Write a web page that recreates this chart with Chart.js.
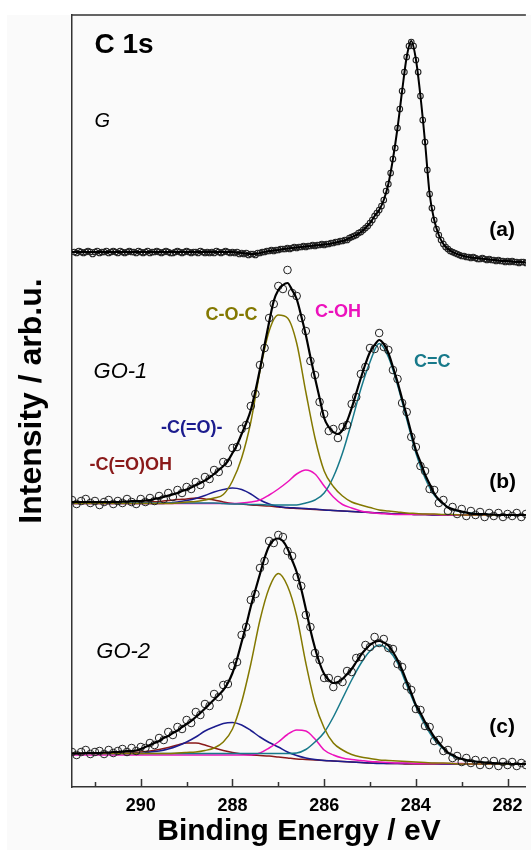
<!DOCTYPE html>
<html>
<head>
<meta charset="utf-8">
<script src="https://cdn.jsdelivr.net/npm/chart.js@4.4.1/dist/chart.umd.min.js"></script>
<style>
  html, body { margin: 0; padding: 0; background: #fff; }
</style>
</head>
<body>
<canvas id="xps" width="531" height="850"></canvas>
<script>
// binding energies (eV)
const E_G = [
  291.45, 291.4, 291.35, 291.3, 291.25, 291.2, 291.15, 291.1, 291.05, 291,
  290.95, 290.9, 290.85, 290.8, 290.75, 290.7, 290.65, 290.6, 290.55, 290.5,
  290.45, 290.4, 290.35, 290.3, 290.25, 290.2, 290.15, 290.1, 290.05, 290,
  289.95, 289.9, 289.85, 289.8, 289.75, 289.7, 289.65, 289.6, 289.55, 289.5,
  289.45, 289.4, 289.35, 289.3, 289.25, 289.2, 289.15, 289.1, 289.05, 289,
  288.95, 288.9, 288.85, 288.8, 288.75, 288.7, 288.65, 288.6, 288.55, 288.5,
  288.45, 288.4, 288.35, 288.3, 288.25, 288.2, 288.15, 288.1, 288.05, 288,
  287.95, 287.9, 287.85, 287.8, 287.75, 287.7, 287.65, 287.6, 287.55, 287.5,
  287.45, 287.4, 287.35, 287.3, 287.25, 287.2, 287.15, 287.1, 287.05, 287,
  286.95, 286.9, 286.85, 286.8, 286.75, 286.7, 286.65, 286.6, 286.55, 286.5,
  286.45, 286.4, 286.35, 286.3, 286.25, 286.2, 286.15, 286.1, 286.05, 286,
  285.95, 285.9, 285.85, 285.8, 285.75, 285.7, 285.65, 285.6, 285.55, 285.5,
  285.45, 285.4, 285.35, 285.3, 285.25, 285.2, 285.15, 285.1, 285.05, 285,
  284.95, 284.9, 284.85, 284.8, 284.75, 284.7, 284.65, 284.6, 284.55, 284.5,
  284.45, 284.4, 284.35, 284.3, 284.25, 284.2, 284.15, 284.1, 284.05, 284,
  283.95, 283.9, 283.85, 283.8, 283.75, 283.7, 283.65, 283.6, 283.55, 283.5,
  283.45, 283.4, 283.35, 283.3, 283.25, 283.2, 283.15, 283.1, 283.05, 283,
  282.95, 282.9, 282.85, 282.8, 282.75, 282.7, 282.65, 282.6, 282.55, 282.5,
  282.45, 282.4, 282.35, 282.3, 282.25, 282.2, 282.15, 282.1, 282.05, 282,
  281.95, 281.9, 281.85, 281.8, 281.75, 281.7, 281.65, 281.6
];
const E_FINE = [
  291.5, 291.4, 291.3, 291.2, 291.1, 291, 290.9, 290.8, 290.7, 290.6,
  290.5, 290.4, 290.3, 290.2, 290.1, 290, 289.9, 289.8, 289.7, 289.6,
  289.5, 289.4, 289.3, 289.2, 289.1, 289, 288.9, 288.8, 288.7, 288.6,
  288.5, 288.4, 288.3, 288.2, 288.1, 288, 287.9, 287.8, 287.7, 287.6,
  287.5, 287.4, 287.3, 287.2, 287.1, 287, 286.9, 286.8, 286.7, 286.6,
  286.5, 286.4, 286.3, 286.2, 286.1, 286, 285.9, 285.8, 285.7, 285.6,
  285.5, 285.4, 285.3, 285.2, 285.1, 285, 284.9, 284.8, 284.7, 284.6,
  284.5, 284.4, 284.3, 284.2, 284.1, 284, 283.9, 283.8, 283.7, 283.6,
  283.5, 283.4, 283.3, 283.2, 283.1, 283, 282.9, 282.8, 282.7, 282.6,
  282.5, 282.4, 282.3, 282.2, 282.1, 282, 281.9, 281.8, 281.7, 281.6
];
const E_COARSE = [
  291.6, 291.4, 291.2, 291, 290.8, 290.6, 290.4, 290.2, 290, 289.8,
  289.6, 289.4, 289.2, 289, 288.8, 288.6, 288.4, 288.2, 288, 287.8,
  287.6, 287.4, 287.2, 287, 286.8, 286.6, 286.4, 286.2, 286, 285.8,
  285.6, 285.4, 285.2, 285, 284.8, 284.6, 284.4, 284.2, 284, 283.8,
  283.6, 283.4, 283.2, 283, 282.8, 282.6, 282.4, 282.2, 282, 281.8,
  281.6
];

// (a) G
const G_DATA = [
  535, 534, 536, 535, 534, 535, 536, 535, 533, 535,
  536, 534, 535, 535, 536, 534, 535, 536, 535, 534,
  536, 535, 534, 535, 536, 535, 535, 534, 536, 535,
  534, 535, 536, 534, 535, 535, 536, 535, 534, 535,
  536, 535, 534, 534, 535, 536, 535, 534, 535, 536,
  535, 534, 535, 535, 534, 536, 535, 534, 535, 534,
  535, 534, 536, 535, 534, 535, 536, 535, 534, 535,
  534, 535, 533, 534, 533, 534, 532, 533, 533, 532,
  534, 534, 535, 535, 536, 536, 537, 536, 537, 537,
  538, 538, 538, 539, 538, 539, 540, 539, 540, 540,
  541, 540, 541, 541, 542, 541, 542, 542, 543, 542,
  543, 543, 544, 544, 545, 545, 546, 546, 547, 547,
  549, 550, 551, 552, 554, 555, 557, 559, 561, 564,
  567, 571, 574, 577, 581, 587, 596, 603, 614, 628,
  639, 659, 678, 696, 715, 730, 741, 745, 741, 727,
  715, 691, 667, 645, 617, 593, 579, 567, 558, 552,
  547, 543, 540, 538, 536, 535, 534, 533, 532, 531,
  531, 530, 530, 529, 530, 529, 528, 528, 529, 528,
  527, 528, 527, 527, 526, 527, 526, 526, 525, 526,
  525, 526, 525, 525, 524, 525, 525, 524
];
const G_FIT = [
  535, 535, 535, 535, 535, 535, 535, 535, 535, 535,
  535, 535, 535, 535, 535, 535, 535, 535, 535, 535,
  535, 535, 535, 535, 535, 535, 535, 535, 535, 535,
  535, 535, 535, 535, 535, 535, 534.5, 534, 533.5, 533,
  533, 534, 535, 536, 536.5, 537, 538, 538.5, 539, 539.5,
  540, 540.5, 541, 541.5, 542, 542.5, 543, 544, 545, 546,
  547.5, 550, 552, 555, 559, 564, 571, 577, 587, 603,
  628, 659, 696, 730, 746, 728, 691, 645, 593, 567,
  552, 543, 538, 535, 533, 531.5, 530.5, 529.5, 529, 528.5,
  528, 527.5, 527, 526.5, 526, 526, 525.5, 525, 525, 524.5
];

// (b) GO-1
const GO1_DATA = [
  287, 283, 286, 288, 284, 286, 282, 285, 287, 283,
  286, 284, 288, 285, 283, 288, 285, 289, 286, 291,
  288, 294, 290, 297, 294, 300, 298, 305, 302, 310,
  308, 317, 315, 325, 324, 339, 340, 358, 362, 381,
  393, 422, 439, 469, 483, 501, 498, 517, 494, 491,
  469, 456, 426, 412, 385, 373, 356, 358, 349, 360,
  362, 383, 390, 413, 420, 439, 438, 454, 440, 437,
  417, 408, 384, 375, 350, 340, 321, 316, 298, 297,
  284, 287, 276, 280, 273, 278, 271, 276, 272, 275,
  270, 274, 271, 274, 270, 273, 271, 274, 270, 273
];
const GO1_FIT = [
  285, 285, 285, 285, 285, 285, 285, 285, 285, 285,
  285, 285.5, 285.5, 286, 286, 286, 286.5, 287, 288, 289,
  290, 291.5, 292.5, 294, 296, 297.5, 299.5, 302, 304, 306.5,
  309.5, 313, 317, 321, 326, 334, 342, 353, 364, 377,
  396, 418, 442, 465, 486, 497, 502, 504, 497, 488,
  471, 452, 430, 409, 389, 369, 360, 355, 353, 357,
  366, 379, 394, 409, 423, 435, 442, 447, 443, 434,
  420, 405, 388, 371.5, 354, 337, 325, 312.5, 303, 293.5,
  287.5, 283.5, 279.5, 278, 276.5, 275.5, 274.5, 273.5, 273, 273,
  273, 272.5, 272.5, 272, 272, 272, 272, 272, 272, 272
];
const GO1_COC = [
  283.5, 283.5, 283.5, 283.5, 283.5, 283.5, 283.5, 283.5, 283.5, 283.5,
  283.5, 283.5, 284, 285, 285.5, 287, 289, 292.5, 306, 329,
  365, 416, 456, 472, 469, 444, 395, 349, 316, 300.5,
  291, 285, 282, 279.5, 277, 276, 275, 274, 273.5, 273,
  273, 272.5, 272.5, 272, 272, 272, 272, 272, 272, 272,
  272
];
const GO1_CC = [
  284, 284, 284, 284, 284, 284, 284, 284, 284, 284,
  284, 284, 284, 284, 284, 284, 284, 283.5, 283, 283,
  282.5, 282.5, 282, 282, 282, 282, 284, 287, 294, 310,
  334, 365, 398, 425, 443.5, 430, 402, 368, 334, 309,
  292, 283, 277.5, 275, 274, 273, 272.5, 272, 272, 272,
  272
];
const GO1_COH = [
  283.5, 283.5, 283.5, 283.5, 283.5, 283.5, 283.5, 283.5, 283.5, 283.5,
  283.5, 283.5, 283.5, 283.5, 283.5, 283.5, 283.5, 283.5, 283.5, 284,
  285, 287, 292, 298, 305, 313, 317, 313, 301, 290,
  282.5, 279, 276, 274.5, 273.5, 273, 272.5, 272.5, 272.5, 272.5,
  272.5, 272, 272, 272, 272, 272, 272, 272, 272, 272,
  272
];
const GO1_CO = [
  283.5, 283.5, 283.5, 283.5, 283.5, 283.5, 283.5, 283.5, 283.5, 283.5,
  283.5, 284, 285, 286.5, 288.5, 291.5, 295, 297.5, 299, 297.5,
  293, 287, 283, 280.5, 279.5, 279, 278.5, 278, 277, 276.5,
  276, 275.5, 275, 274.5, 274, 273.5, 273, 273, 272.5, 272.5,
  272, 272, 272, 272, 272, 272, 272, 272, 272, 272,
  272
];
const GO1_COOH = [
  284, 284, 284, 284, 284, 284, 284, 284, 284.5, 285,
  285.5, 286.5, 287.5, 288, 289, 288, 287, 285, 283.5, 283,
  282, 281.5, 281, 280, 279, 278.5, 278, 277.5, 277, 276.5,
  276, 275.5, 275, 274.5, 274, 273.5, 273, 273, 272.5, 272.5,
  272, 272, 272, 272, 272, 272, 272, 272, 272, 272,
  272
];

// (c) GO-2
const GO2_DATA = [
  35, 32, 35, 37, 33, 35, 36, 33, 37, 34,
  36, 38, 35, 39, 36, 40, 39, 44, 42, 49,
  47, 55, 52, 60, 58, 67, 64, 75, 72, 83,
  81, 93, 90, 102, 103, 121, 125, 152, 160, 187,
  193, 219, 226, 246, 244, 252, 250, 236, 231, 210,
  201, 172, 160, 134, 127, 109, 109, 100, 107, 105,
  116, 115, 129, 130, 142, 140, 150, 144, 148, 139,
  138, 123, 120, 101, 97, 78, 77, 61, 60, 46,
  47, 36, 37, 29, 31, 25, 29, 24, 27, 22,
  26, 22, 26, 21, 25, 22, 25, 21, 24, 22
];
const GO2_FIT = [
  33.5, 33.5, 33.5, 34, 34, 34, 34, 34.5, 34.5, 35,
  35, 35.5, 36, 36, 36.5, 38, 40, 42, 44, 46,
  49, 51, 54, 56.5, 60, 63, 66, 70, 74, 78.5,
  83, 87.5, 92, 97, 104, 114, 128, 145, 162, 180.5,
  197, 213, 229, 241, 247, 248.5, 246, 238.5, 227, 215,
  198, 178, 157, 139, 124, 113, 107, 104, 105, 108,
  113, 118, 125, 132, 137.5, 142, 145, 146, 144.5, 141.5,
  135, 127, 117, 105.5, 94, 82, 74, 65, 57.5, 50,
  44.5, 39, 34.5, 32, 29.5, 28, 27, 26, 25.5, 25,
  24.5, 24, 24, 23.5, 23.5, 23.5, 23, 23, 23, 23
];
const GO2_COC = [
  33.5, 33.5, 33.5, 33.5, 33.5, 33.5, 33.5, 33.5, 33.5, 33.5,
  33.5, 33.5, 34, 34.5, 35, 36.5, 39, 45, 58, 85,
  123, 167, 199, 213.5, 201, 171, 124, 84, 59, 44,
  37, 32.5, 30, 28.5, 27, 26.5, 26, 25.5, 25, 24.5,
  24, 24, 23.5, 23, 23, 23, 23, 23, 23, 23,
  23
];
const GO2_CC = [
  33.5, 33.5, 33.5, 33.5, 33.5, 33.5, 33.5, 33.5, 33.5, 33.5,
  33.5, 33.5, 33.5, 33.5, 33.5, 33.5, 33.5, 33.5, 33.5, 33.5,
  33.5, 33.5, 33.5, 33.5, 33.5, 34, 37.5, 45, 54.5, 70,
  88.5, 107, 123.5, 136, 142, 137, 124, 102, 80.5, 62,
  47.5, 38, 31, 28, 26, 25, 24, 23.5, 23, 23,
  23
];
const GO2_COH = [
  32, 32, 32, 32, 32, 32, 32, 32, 32, 32,
  32, 32, 32, 32, 32, 32, 32, 32, 32, 32,
  32, 34, 39, 45, 52.5, 57, 56, 48, 37, 32,
  29, 27.5, 26.5, 25.5, 25, 24.5, 24, 24, 23.5, 23.5,
  23.5, 23.5, 23.5, 23.5, 23, 23, 23, 23, 23, 23,
  23
];
const GO2_CO = [
  33.5, 33.5, 33.5, 33.5, 33.5, 33.5, 33.5, 33.5, 33.5, 35,
  36, 38, 41, 45, 50, 56, 60, 63.5, 64.5, 62,
  56.5, 50, 44.5, 40, 35, 31.5, 29, 27.5, 26.5, 26,
  25.5, 25, 24.5, 24, 23.5, 23.5, 23.5, 23.5, 23.5, 23.5,
  23.5, 23, 23, 23, 23, 23, 23, 23, 23, 23,
  23
];
const GO2_COOH = [
  34, 34, 34, 34, 34, 34, 34, 34.5, 35, 36,
  37.5, 39.5, 42, 44, 44, 42, 39, 36.5, 34.5, 33,
  32, 31.5, 31, 30, 29, 28, 27.5, 27, 26.5, 26,
  25.5, 25, 24.5, 24, 24, 23.5, 23.5, 23, 23, 23,
  23, 23, 23, 23, 23, 23, 23, 23, 23, 23,
  23
];

const MAJOR_TICKS = [290, 288, 286, 284, 282];
const MINOR_TICKS = [291, 289, 287, 285, 283];

const FONT = "'Liberation Sans', Arial, sans-serif";
const C_COC = '#837800';
const C_CC = '#17798a';
const C_COH = '#ec12bc';
const C_CO = '#1c1c8e';
const C_COOH = '#8a1a1a';

// text placed in data coordinates
const LABELS = [
  { text: 'C 1s', e: 291.01, v: 734, font: 'bold 28px ' + FONT, color: '#000' },
  { text: 'G', e: 291.01, v: 660, font: 'italic 20px ' + FONT, color: '#000' },
  { text: 'GO-1', e: 291.03, v: 409, font: 'italic 22px ' + FONT, color: '#000' },
  { text: 'GO-2', e: 290.97, v: 129, font: 'italic 22px ' + FONT, color: '#000' },
  { text: '(a)', e: 282.4, v: 551, font: 'bold 21px ' + FONT, color: '#000' },
  { text: '(b)', e: 282.4, v: 299.5, font: 'bold 21px ' + FONT, color: '#000' },
  { text: '(c)', e: 282.4, v: 54.5, font: 'bold 21px ' + FONT, color: '#000' },
  { text: 'C-O-C', e: 288.59, v: 467, font: 'bold 18px ' + FONT, color: C_COC },
  { text: 'C-OH', e: 286.2, v: 470, font: 'bold 18px ' + FONT, color: C_COH },
  { text: 'C=C', e: 284.04, v: 420, font: 'bold 18px ' + FONT, color: C_CC },
  { text: '-C(=O)-', e: 289.56, v: 354, font: 'bold 18px ' + FONT, color: C_CO },
  { text: '-C(=O)OH', e: 291.12, v: 317, font: 'bold 18px ' + FONT, color: C_COOH }
];

const pts = (xs, ys) => xs.map((x, i) => ({ x: x, y: ys[i] }));

const fitLine = (xs, ys, color, width, order) => ({
  data: pts(xs, ys),
  showLine: true,
  borderColor: color,
  borderWidth: width,
  pointRadius: 0,
  cubicInterpolationMode: 'monotone',
  order: order
});

const circles = (xs, ys, r, w) => ({
  data: pts(xs, ys),
  showLine: false,
  pointRadius: r,
  pointBorderWidth: w,
  pointBorderColor: '#222',
  pointBackgroundColor: 'rgba(0,0,0,0)',
  order: 1
});

const framePlugin = {
  id: 'frame',
  beforeDraw(chart) {
    let ctx = chart.ctx;
    ctx.save();
    ctx.fillStyle = '#fafafa';
    ctx.fillRect(7, 15, chart.width - 7, chart.height - 15);
    ctx.restore();
  },
  afterDraw(chart) {
    let ctx = chart.ctx;
    let a = chart.chartArea;
    let x = chart.scales.x;
    let y = chart.scales.y;
    ctx.save();
    ctx.strokeStyle = '#333';
    ctx.lineWidth = 1.5;
    ctx.beginPath();
    ctx.moveTo(a.left, a.top);
    ctx.lineTo(a.right, a.top);
    MAJOR_TICKS.forEach(v => {
      let px = Math.round(x.getPixelForValue(v)) + 0.5;
      ctx.moveTo(px, a.bottom);
      ctx.lineTo(px, a.bottom - 8);
    });
    MINOR_TICKS.forEach(v => {
      let px = Math.round(x.getPixelForValue(v)) + 0.5;
      ctx.moveTo(px, a.bottom);
      ctx.lineTo(px, a.bottom - 5);
    });
    ctx.stroke();
    ctx.textAlign = 'left';
    ctx.textBaseline = 'alphabetic';
    LABELS.forEach(l => {
      ctx.font = l.font;
      ctx.fillStyle = l.color;
      ctx.fillText(l.text, x.getPixelForValue(l.e), y.getPixelForValue(l.v));
    });
    ctx.restore();
  }
};

let ctx = document.getElementById('xps').getContext('2d');
let chart = new Chart(ctx, {
  type: 'scatter',
  data: {
    datasets: [
      fitLine(E_FINE, G_FIT, '#000', 2, 0),
      circles(E_G, G_DATA, 2.8, 1.1),

      fitLine(E_FINE, GO1_FIT, '#000', 2.2, 0),
      circles(E_FINE, GO1_DATA, 3.8, 1),
      fitLine(E_COARSE, GO1_COC, C_COC, 1.5, 2),
      fitLine(E_COARSE, GO1_CC, C_CC, 1.5, 2),
      fitLine(E_COARSE, GO1_COH, C_COH, 1.5, 2),
      fitLine(E_COARSE, GO1_CO, C_CO, 1.5, 2),
      fitLine(E_COARSE, GO1_COOH, C_COOH, 1.5, 2),

      fitLine(E_FINE, GO2_FIT, '#000', 2.2, 0),
      circles(E_FINE, GO2_DATA, 3.8, 1),
      fitLine(E_COARSE, GO2_COC, C_COC, 1.5, 2),
      fitLine(E_COARSE, GO2_CC, C_CC, 1.5, 2),
      fitLine(E_COARSE, GO2_COH, C_COH, 1.5, 2),
      fitLine(E_COARSE, GO2_CO, C_CO, 1.5, 2),
      fitLine(E_COARSE, GO2_COOH, C_COOH, 1.5, 2)
    ]
  },
  options: {
    responsive: false,
    animation: false,
    events: [],
    layout: { padding: { top: 15, left: 0, right: 0, bottom: 0 } },
    plugins: {
      legend: { display: false },
      tooltip: { enabled: false }
    },
    scales: {
      x: {
        type: 'linear',
        reverse: true,
        min: 281.6,
        max: 291.5,
        afterBuildTicks: s => { s.ticks = MAJOR_TICKS.map(v => ({ value: v })); },
        afterFit: s => { s.height = 63; },
        grid: { display: false, drawTicks: false },
        border: { display: true, color: '#333', width: 1.5 },
        ticks: {
          padding: 8,
          color: '#000',
          font: { family: FONT, size: 18, weight: 'bold' }
        },
        title: {
          display: true,
          text: 'Binding Energy / eV',
          color: '#000',
          padding: 0,
          font: { family: FONT, size: 30, weight: 'bold' }
        }
      },
      y: {
        min: 0,
        max: 772,
        afterFit: s => { s.width = 72; },
        grid: { display: false, drawTicks: false },
        border: { display: true, color: '#333', width: 1.5 },
        ticks: { display: false },
        title: {
          display: true,
          text: 'Intensity / arb.u.',
          color: '#000',
          padding: { top: 13, bottom: 0 },
          font: { family: FONT, size: 32, weight: 'bold' }
        }
      }
    }
  },
  plugins: [framePlugin]
});
</script>
</body>
</html>
